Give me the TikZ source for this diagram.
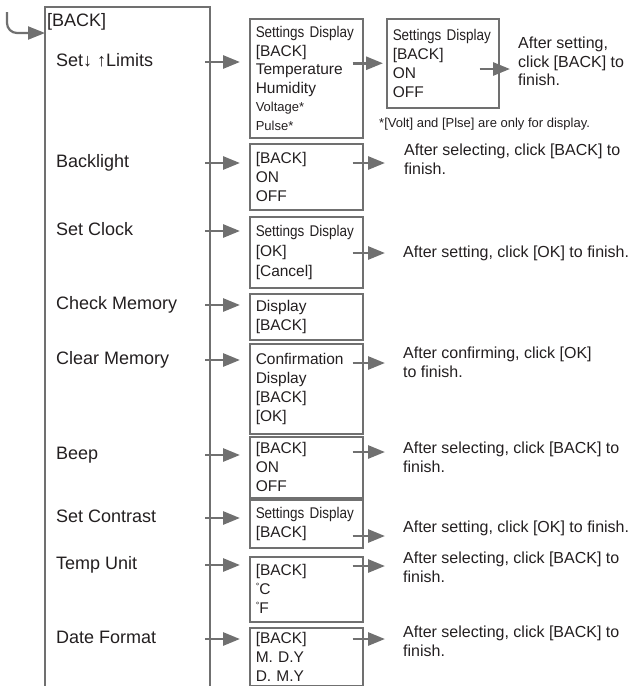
\documentclass[tikz,border=0pt]{standalone}
\usepackage{fontspec}
\setmainfont{Liberation Sans}
\newfontfamily\narrowfont[FakeStretch=0.87]{Liberation Sans}
\usetikzlibrary{arrows.meta, positioning}
\definecolor{linegray}{RGB}{112,112,112}
\definecolor{inkblack}{RGB}{35,31,32}
\newcommand{\boxfont}{\fontsize{15.5}{19}\selectfont}
\newcommand{\smallnote}{\fontsize{13}{15}\selectfont}
\newcommand{\degsign}{\raisebox{5pt}{\fontsize{9}{9}\selectfont °}}

\begin{document}
\begin{tikzpicture}[x=1pt, y=-1pt,
    every node/.style={text=inkblack},
    menuitem/.style={anchor=west, inner sep=0pt, text height=13pt, text depth=4pt,
                     font=\fontsize{18}{22}\selectfont},
    subbox/.style={draw=linegray, line width=1.5pt, anchor=north west, text width=101pt,
                   inner xsep=6pt, inner ysep=0pt, align=left, font=\boxfont},
    note/.style={anchor=north west, inner sep=0pt, align=left, font=\fontsize{16}{18.5}\selectfont},
    arr/.style={-{Triangle[length=17pt,width=13pt]}, line width=2.8pt, linegray},
    frame/.style={linegray, line width=1.6pt}
]
\useasboundingbox (0,0) rectangle (631,686);

% menu column
\draw[frame] (45,686) |- (210,7) -- (210,686);
\node[menuitem] (back)      at (47,22)  {[BACK]};
\node[menuitem] (limits)    at (56,62)  {Set↓\ ↑Limits};
\node[menuitem] (backlight) at (56,163) {Backlight};
\node[menuitem] (clock)     at (56,231) {Set Clock};
\node[menuitem] (check)     at (56,305) {Check Memory};
\node[menuitem] (clear)     at (56,360) {Clear Memory};
\node[menuitem] (beep)      at (56,455) {Beep};
\node[menuitem] (contrast)  at (56,518) {Set Contrast};
\node[menuitem] (tempunit)  at (56,565) {Temp Unit};
\node[menuitem] (dateform)  at (56,639) {Date Format};

\coordinate (loopstart) at (7,12);
\coordinate (entry) at (45,33);
\draw[arr, line width=2.2pt, rounded corners=10pt] (loopstart) |- (entry);

% sub menus
\node[subbox, minimum height=119pt, font=\fontsize{15.5}{18.5}\selectfont] (bLimits) at (249,18)
    {{\narrowfont Settings Display}\\ {[BACK]}\\ Temperature\\ Humidity\\ {\smallnote Voltage*}\\ {\smallnote Pulse*}};
\node[subbox, minimum height=89pt, text width=100pt] (bOnOff) at (386,18)
    {{\narrowfont Settings Display}\\ {[BACK]}\\ ON\\ OFF};
\node[subbox, minimum height=66pt] (bBkl)  at (249,143) {[BACK]\\ ON\\ OFF};
\node[subbox, minimum height=71pt, font=\fontsize{15.5}{20}\selectfont] (bClk) at (249,216)
    {{\narrowfont Settings Display}\\ {[OK]}\\ {[Cancel]}};
\node[subbox, minimum height=46pt] (bChk)  at (249,293) {Display\\ {[BACK]}};
\node[subbox, minimum height=90pt] (bClr)  at (249,343) {Confirmation\\ Display\\ {[BACK]}\\ {[OK]}};
\node[subbox, minimum height=61pt] (bBeep) at (249,436) {[BACK]\\ ON\\ OFF};
\node[subbox, minimum height=48pt] (bCon)  at (249,499) {{\narrowfont Settings Display}\\ {[BACK]}};
\node[subbox, minimum height=65pt] (bTmp)  at (249,556) {[BACK]\\ \degsign C\\ \degsign F};
\node[subbox, minimum height=58pt] (bDate) at (249,627) {[BACK]\\ M. D.Y\\ D. M.Y};

% notes
\node[anchor=west, inner sep=0pt, font=\smallnote] (footnote) at (379,124)
    {*[Volt] and [Plse] are only for display.};
\node[note] (nOnOff) at (518,37)  {After setting,\\ click [BACK] to\\ finish.};
\node[note] (nBkl)   at (404,144) {After selecting, click [BACK] to\\ finish.};
\node[note] (nClk)   at (403,246) {After setting, click [OK] to finish.};
\node[note] (nClr)   at (403,347) {After confirming, click [OK]\\ to finish.};
\node[note] (nBeep)  at (403,442) {After selecting, click [BACK] to\\ finish.};
\node[note] (nCon)   at (403,521) {After setting, click [OK] to finish.};
\node[note] (nTmp)   at (403,552) {After selecting, click [BACK] to\\ finish.};
\node[note] (nDate)  at (403,626) {After selecting, click [BACK] to\\ finish.};

% arrows
\coordinate (menuR) at (205,0);
\foreach \i/\b in {limits/bLimits, backlight/bBkl, clock/bClk, check/bChk, clear/bClr,
                   beep/bBeep, contrast/bCon, tempunit/bTmp, dateform/bDate}
    \draw[arr, shorten >=9pt] (menuR |- \i.west) -- (\b.west |- \i.west);

\draw[arr, shorten >=3pt] ([xshift=-11pt]bLimits.east |- bOnOff.west) -- (bOnOff.west);
\coordinate (tipOnOff) at (510,69);
\draw[arr] ([xshift=-20pt]bOnOff.east |- tipOnOff) -- (tipOnOff);
\foreach \b/\y in {bBkl/163, bClk/253, bClr/363, bBeep/452, bCon/536, bTmp/566, bDate/639} {
    \coordinate (tip\b) at (385,\y);
    \draw[arr] ([xshift=-11pt]\b.east |- tip\b) -- (tip\b);
}
\end{tikzpicture}
\end{document}
